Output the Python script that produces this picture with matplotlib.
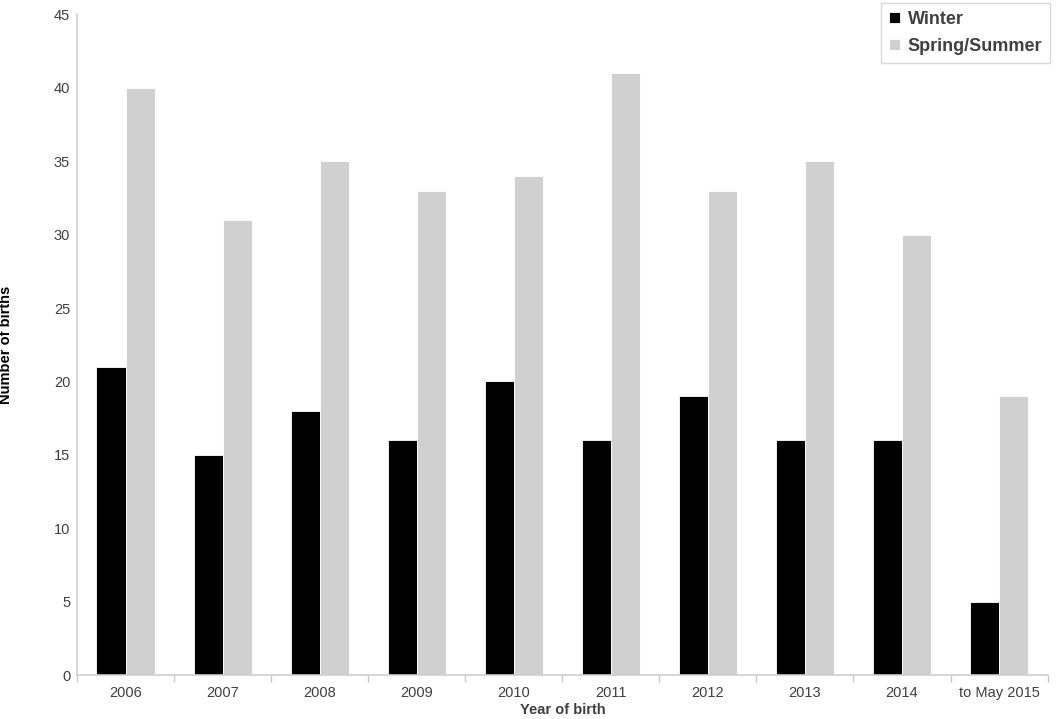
import numpy as np
import matplotlib.pyplot as plt

plt.rcParams['font.family'] = ['Liberation Sans', 'DejaVu Sans']

# Data
years = ['2006', '2007', '2008', '2009', '2010', '2011', '2012', '2013', '2014', 'to May 2015']
winter = [21, 15, 18, 16, 20, 16, 19, 16, 16, 5]
spring_summer = [40, 31, 35, 33, 34, 41, 33, 35, 30, 19]

x = np.arange(len(years))
w = 0.3

fig = plt.figure(figsize=(10.56, 7.19), dpi=100)
ax = fig.add_axes([0.073, 0.061, 0.919, 0.919])

ax.bar(x - w / 2, winter, w, color='black', edgecolor='white', linewidth=0.6, label='Winter')
ax.bar(x + w / 2, spring_summer, w, color='#d0d0d0', edgecolor='white', linewidth=0.6, label='Spring/Summer')

ax.set_xlim(-0.5, len(years) - 0.5)
ax.set_ylim(0, 45)
ax.set_yticks(np.arange(0, 46, 5))
ax.set_xticks(x)
ax.set_xticklabels(years)
ax.set_xticks(np.arange(-0.5, len(years), 1), minor=True)
ax.tick_params(axis='x', which='major', length=0, pad=8, labelsize=10.5, labelcolor='#404040')
ax.tick_params(axis='x', which='minor', length=5, color='#c8c8c8', width=1)
ax.tick_params(axis='y', length=0, pad=5, labelsize=10.5, labelcolor='#404040')

for s in ['top', 'right']:
    ax.spines[s].set_visible(False)
for s in ['left', 'bottom']:
    ax.spines[s].set_color('#d0d0d0')
    ax.spines[s].set_linewidth(1.2)

ax.set_xlabel('Year of birth', fontsize=10.5, fontweight='bold', color='#404040', labelpad=2)
ax.set_ylabel('Number of births', fontsize=10.5, fontweight='bold', color='black', labelpad=29)

leg = ax.legend(loc='upper right', bbox_to_anchor=(1.012, 1.031), fontsize=13, frameon=True,
                fancybox=False, edgecolor='#d0d0d0', handlelength=0.6, handleheight=0.6,
                handletextpad=0.4, borderpad=0.45, labelspacing=0.55)
for t in leg.get_texts():
    t.set_fontweight('bold')
    t.set_color('#404040')

fig.savefig('out.png', dpi=100)
